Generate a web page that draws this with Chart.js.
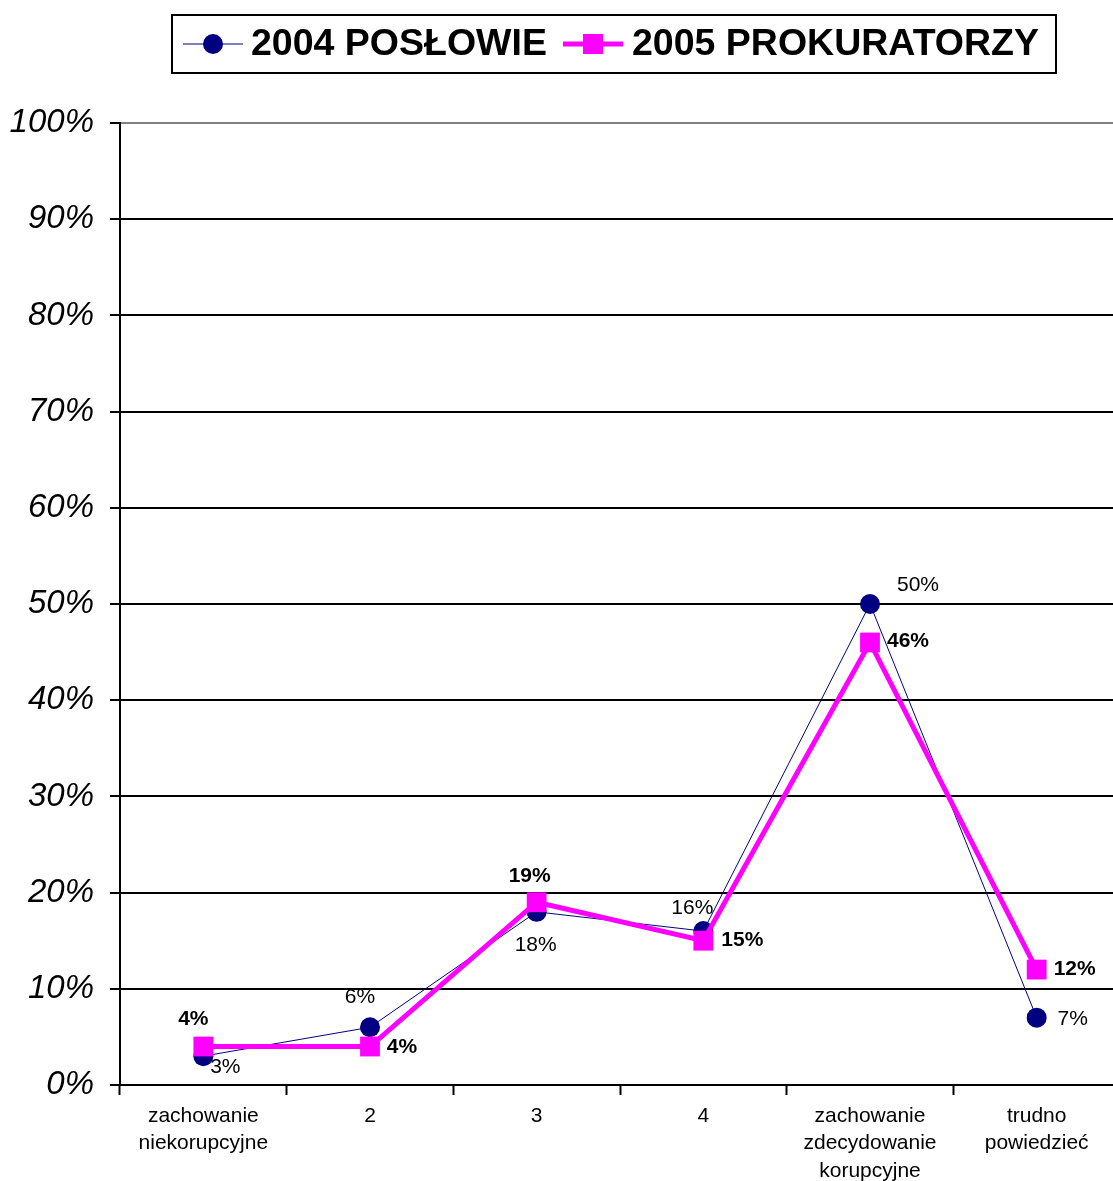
<!DOCTYPE html>
<html>
<head>
<meta charset="utf-8">
<script src="https://cdn.jsdelivr.net/npm/chart.js@4.4.1/dist/chart.umd.min.js"></script>
<style>
  html, body { margin: 0; padding: 0; background: #fff; overflow: hidden; }
  #wrap { width: 1134px; height: 1181px; position: relative; }
</style>
</head>
<body>
<div id="wrap"><canvas id="chart"></canvas></div>
<script>
// categories on the x axis
var categories = [
    ['zachowanie', 'niekorupcyjne'],
    '2',
    '3',
    '4',
    ['zachowanie', 'zdecydowanie', 'korupcyjne'],
    ['trudno', 'powiedzieć']
];
var poslowie2004 = [3, 6, 18, 16, 50, 7];
var prokuratorzy2005 = [4, 4, 19, 15, 46, 12];
var seriesNames = ['2004 POSŁOWIE', '2005 PROKURATORZY'];

// where each value label sits relative to its point (dx, dy)
var labelOffsets2004 = [[22, 11], [-10, -30], [-1, 33], [-11, -23], [48, -19], [36, 2]];
var labelOffsets2005 = [[-10, -27], [32, 1], [-7, -26], [39, 0], [38, -1], [38, 0]];

var NAVY = '#000080';
var MAGENTA = '#ff00ff';

// value labels next to points
var valueLabels = {
    id: 'valueLabels',
    afterDatasetsDraw: function(chart){
        var ctx = chart.ctx;
        var sets = [
            {idx: 0, offs: labelOffsets2004, font: 'normal 21px Arial, "Liberation Sans", sans-serif'},
            {idx: 1, offs: labelOffsets2005, font: 'bold 21px Arial, "Liberation Sans", sans-serif'}
        ];
        ctx.save();
        ctx.textAlign = 'center';
        ctx.textBaseline = 'middle';
        ctx.fillStyle = '#000';
        sets.forEach(function(s){
            var meta = chart.getDatasetMeta(s.idx);
            var vals = chart.data.datasets[s.idx].data;
            ctx.font = s.font;
            meta.data.forEach(function(pt, i){
                ctx.fillText(vals[i] + '%', pt.x + s.offs[i][0], pt.y + s.offs[i][1]);
            });
        });
        ctx.restore();
    }
};

// boxed legend on top, line + marker like the original
var boxLegend = {
    id: 'boxLegend',
    afterDraw: function(chart){
        var ctx = chart.ctx;
        ctx.save();
        ctx.lineWidth = 2;
        ctx.strokeStyle = '#000';
        ctx.strokeRect(172, 15, 884, 58);
        var cy = 44;
        // 2004
        ctx.strokeStyle = NAVY;
        ctx.lineWidth = 1;
        ctx.beginPath(); ctx.moveTo(183, cy); ctx.lineTo(243, cy); ctx.stroke();
        ctx.fillStyle = NAVY;
        ctx.beginPath(); ctx.arc(213, cy, 10, 0, Math.PI * 2); ctx.fill();
        // 2005
        ctx.strokeStyle = MAGENTA;
        ctx.lineWidth = 5;
        ctx.beginPath(); ctx.moveTo(563, cy); ctx.lineTo(623, cy); ctx.stroke();
        ctx.fillStyle = MAGENTA;
        ctx.fillRect(583, cy - 10, 20, 20);
        ctx.fillStyle = '#000';
        ctx.font = 'bold 37.5px Arial, "Liberation Sans", sans-serif';
        ctx.textBaseline = 'middle';
        ctx.textAlign = 'left';
        ctx.fillText(seriesNames[0], 251, cy + 1);
        ctx.fillText(seriesNames[1], 632, cy + 1);
        ctx.restore();
    }
};

var ctx = document.getElementById('chart');
var chart = new Chart(ctx, {
    type: 'line',
    data: {
        labels: categories,
        datasets: [
            {
                label: seriesNames[0],
                data: poslowie2004,
                borderColor: NAVY,
                backgroundColor: NAVY,
                borderWidth: 1,
                pointStyle: 'circle',
                pointRadius: 10,
                pointBorderWidth: 0,
                tension: 0,
                order: 1
            },
            {
                label: seriesNames[1],
                data: prokuratorzy2005,
                borderColor: MAGENTA,
                backgroundColor: MAGENTA,
                borderWidth: 5,
                pointStyle: 'rect',
                pointRadius: 14,
                pointBorderWidth: 0,
                tension: 0,
                order: 0
            }
        ]
    },
    options: {
        responsive: true,
        maintainAspectRatio: false,
        animation: false,
        layout: { padding: { top: 123, right: 0, left: 0, bottom: 0 } },
        plugins: {
            legend: { display: false },
            tooltip: { enabled: false }
        },
        scales: {
            x: {
                offset: true,
                grid: {
                    offset: true,
                    drawOnChartArea: false,
                    drawTicks: true,
                    tickLength: 10,
                    tickWidth: 2,
                    tickColor: '#000'
                },
                border: { display: true, color: '#000', width: 2 },
                ticks: {
                    color: '#000',
                    padding: 8,
                    maxRotation: 0,
                    autoSkip: false,
                    font: { family: 'Arial, "Liberation Sans", sans-serif', size: 21, lineHeight: 1.29 }
                },
                afterFit: function(scale){ scale.height = 96; }
            },
            y: {
                min: 0,
                max: 100,
                ticks: {
                    stepSize: 10,
                    color: '#000',
                    padding: 16,
                    font: { family: 'Arial, "Liberation Sans", sans-serif', size: 33, style: 'italic' },
                    callback: function(v){ return v + '%'; }
                },
                grid: {
                    color: function(c){ return c.tick && c.tick.value === 100 ? '#808080' : '#000'; },
                    lineWidth: 2,
                    tickLength: 10,
                    tickColor: '#000',
                    tickWidth: 2
                },
                border: { display: true, color: '#000', width: 2 },
                afterFit: function(scale){ scale.width = 120; }
            }
        }
    },
    plugins: [valueLabels, boxLegend]
});
</script>
</body>
</html>
